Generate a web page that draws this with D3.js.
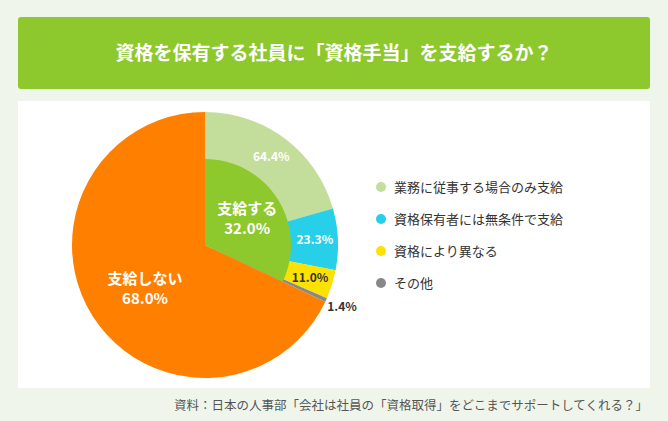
<!DOCTYPE html>
<html><head><meta charset="utf-8">
<script src="https://cdn.jsdelivr.net/npm/d3@7"></script>
<style>body{margin:0;background:#f0f5ec;font-family:"Noto Sans CJK JP",sans-serif;}</style>
</head><body>
<svg id="chart" width="668" height="421"></svg>
<script>
const title = "資格を保有する社員に「資格手当」を支給するか？";
const source = "資料：日本の人事部「会社は社員の「資格取得」をどこまでサポートしてくれる？」";
const mainLabels = ["支給する", "支給しない"];
const mainValues = [32.0, 68.0];
const subLabels = ["業務に従事する場合のみ支給", "資格保有者には無条件で支給", "資格により異なる", "その他"];
const subValues = [64.4, 23.3, 11.0, 1.4];
const subColors = ["#c3dd9b", "#27d0e8", "#fde100", "#888888"];

const svg = d3.select("#chart");
svg.append("rect").attr("width", 668).attr("height", 421).attr("fill", "#f0f5ec");
svg.append("rect").attr("x", 18).attr("y", 17).attr("width", 632).attr("height", 72).attr("rx", 3).attr("fill", "#8dc82c");
svg.append("text").attr("x", 334).attr("y", 60).attr("text-anchor", "middle")
    .attr("fill", "#fff").attr("font-size", 19).attr("font-weight", "bold").text(title);
svg.append("rect").attr("x", 18).attr("y", 101).attr("width", 632).attr("height", 287).attr("fill", "#fff");
svg.append("text").attr("x", 648).attr("y", 410).attr("text-anchor", "end")
    .attr("fill", "#555").attr("font-size", 12.5).text(source);

const cx = 205, cy = 245, R = 133, r0 = 86;
const g = svg.append("g").attr("transform", `translate(${cx},${cy})`);
const mainArcs = d3.pie().sort(null)(mainValues);
const yesEnd = mainArcs[0].endAngle;
const subArcs = d3.pie().sort(null).startAngle(0).endAngle(yesEnd)(subValues);

const outer = d3.arc().innerRadius(0).outerRadius(R);
g.append("path").attr("d", outer(mainArcs[1])).attr("fill", "#ff8000");
g.selectAll(".sub").data(subArcs).enter().append("path")
    .attr("d", outer).attr("fill", (d, i) => subColors[i]);
g.append("path").attr("d", d3.arc().innerRadius(0).outerRadius(r0)(mainArcs[0])).attr("fill", "#8dc82c");

const subLabelArc = d3.arc().innerRadius(110).outerRadius(110);
const subPos = [[81, -88], [109, -9], [107, 31], [137, 62]];
subArcs.forEach((d, i) => {
    let [x, y] = subLabelArc.centroid(d);
    if (i === 3) { x = 137; y = 62; }
    g.append("text").attr("x", x).attr("y", y + 4).attr("text-anchor", "middle")
        .attr("font-size", 12).attr("font-weight", "bold")
        .attr("fill", i < 2 ? "#fff" : "#333")
        .text(subValues[i].toFixed(1) + "%");
});

const mainLabelArc = d3.arc().innerRadius(50).outerRadius(50);
mainArcs.forEach((d, i) => {
    let [x, y] = i === 0 ? mainLabelArc.centroid(d) : [-60, 43];
    const t = g.append("text").attr("text-anchor", "middle").attr("fill", "#fff")
        .attr("font-size", 15).attr("font-weight", "bold");
    t.append("tspan").attr("x", x).attr("y", y - 4).text(mainLabels[i]);
    t.append("tspan").attr("x", x).attr("y", y + 16).text(mainValues[i].toFixed(1) + "%");
});

const leg = svg.append("g");
const ly = d3.scalePoint().domain(subLabels).range([187, 283]);
subLabels.forEach((s, i) => {
    leg.append("circle").attr("cx", 381).attr("cy", ly(s)).attr("r", 5).attr("fill", subColors[i]);
    leg.append("text").attr("x", 394).attr("y", ly(s) + 5).attr("font-size", 13).attr("fill", "#333").text(s);
});
</script>
</body></html>
